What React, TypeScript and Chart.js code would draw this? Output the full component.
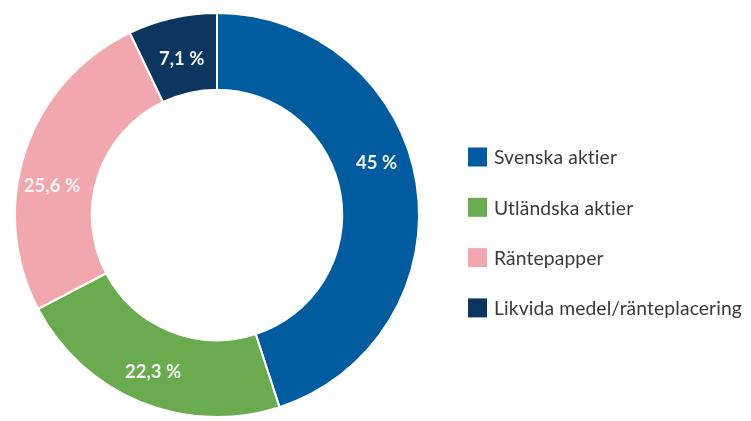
import React, { useEffect, useRef } from "react";
import { Chart, registerables } from "chart.js";

Chart.register(...registerables);

const categories = [
  "Svenska aktier",
  "Utländska aktier",
  "Räntepapper",
  "Likvida medel/ränteplacering",
];
const shares = [45, 22.3, 25.6, 7.1];
const valueLabels = ["45 %", "22,3 %", "25,6 %", "7,1 %"];
const colors = ["#005c9e", "#6aab50", "#f2a7ae", "#0c355f"];
// where along each slice (0..1) its label sits, and radial nudge
const labelAngleFraction = [0.445, 0.5, 0.41, 0.5];
const labelRadialShift = [4, 6, 4, -4];

const sliceLabelPlugin = {
  id: "sliceLabels",
  afterDatasetsDraw(chart: any) {
    const ctx = chart.ctx;
    const meta = chart.getDatasetMeta(0);
    ctx.save();
    ctx.font = "bold 18.5px Lato, 'Open Sans', sans-serif";
    ctx.fillStyle = "#f4f4f4";
    ctx.textAlign = "center";
    ctx.textBaseline = "middle";
    meta.data.forEach((arc: any, i: number) => {
      const p = arc.getProps(["x", "y", "startAngle", "endAngle", "innerRadius", "outerRadius"], true);
      const a = p.startAngle + (p.endAngle - p.startAngle) * labelAngleFraction[i];
      const r = (p.innerRadius + p.outerRadius) / 2 + labelRadialShift[i];
      ctx.fillText(valueLabels[i], p.x + Math.cos(a) * r, p.y + Math.sin(a) * r);
    });
    ctx.restore();
  },
};

const legendPlugin = {
  id: "sideLegend",
  afterDraw(chart: any) {
    const ctx = chart.ctx;
    const x0 = 468;
    const y0 = 157;
    const step = 50.3;
    const box = 19;
    ctx.save();
    ctx.font = "19.3px Lato, 'Open Sans', sans-serif";
    try {
      (ctx as any).letterSpacing = "0.12px";
    } catch (e) {}
    ctx.textBaseline = "middle";
    ctx.textAlign = "left";
    categories.forEach((c, i) => {
      const yc = y0 + i * step;
      ctx.fillStyle = colors[i];
      ctx.fillRect(x0, yc - box / 2, box, box);
      ctx.fillStyle = "#3a3a3a";
      ctx.fillText(c, x0 + box + 7, yc + 1);
    });
    ctx.restore();
  },
};

export default function App() {
  const ref = useRef<HTMLCanvasElement | null>(null);
  useEffect(() => {
    if (!ref.current) return;
    const chart = new Chart(ref.current, {
      type: "doughnut",
      data: {
        labels: categories,
        datasets: [
          {
            data: shares,
            backgroundColor: colors,
            borderColor: "#ffffff",
            borderWidth: 2,
          },
        ],
      },
      options: {
        animation: false,
        responsive: false,
        cutout: "62%",
        layout: { padding: { left: 14, top: 12, right: 331, bottom: 3 } },
        plugins: {
          legend: { display: false },
          tooltip: { enabled: false },
        },
      },
      plugins: [sliceLabelPlugin, legendPlugin],
    });
    return () => chart.destroy();
  }, []);
  return (
    <div style={{ position: "absolute", left: 0, top: 0, width: 751, height: 421, background: "#fff" }}>
      <canvas ref={ref} width={751} height={421} style={{ width: 751, height: 421 }} />
    </div>
  );
}
